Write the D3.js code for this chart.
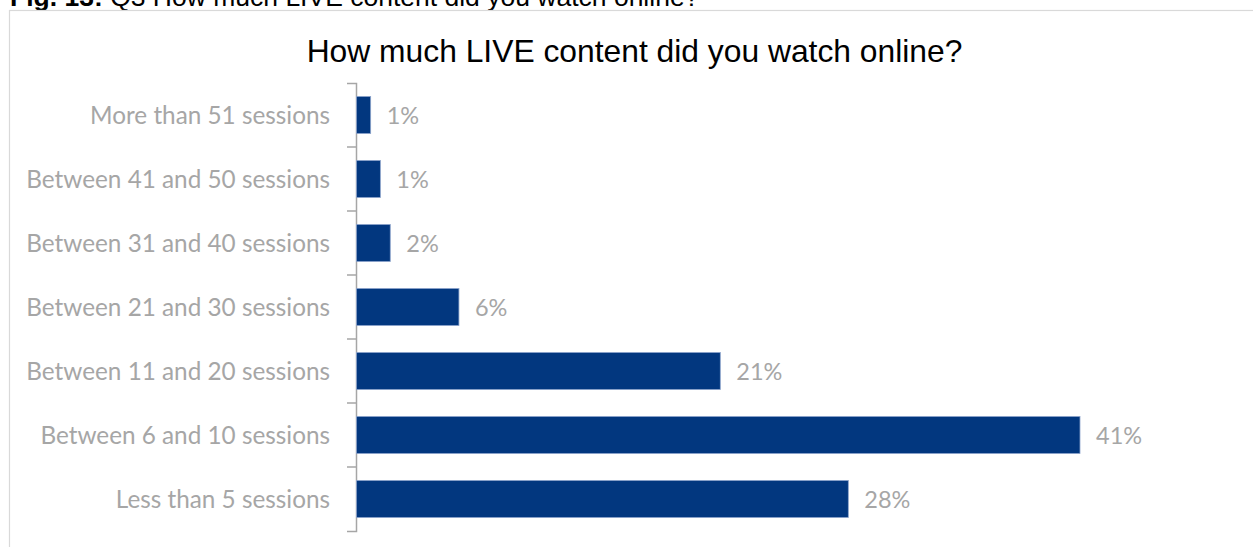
<!DOCTYPE html>
<html>
<head>
<meta charset="utf-8">
<script src="https://cdn.jsdelivr.net/npm/d3@7"></script>
<style>
  html, body { margin: 0; padding: 0; background: #fff; }
  svg { display: block; }
</style>
</head>
<body>
<svg id="chart" width="1253" height="547"></svg>
<script>
// Survey answers, listed top to bottom as shown on the chart
const categories = [
  "More than 51 sessions",
  "Between 41 and 50 sessions",
  "Between 31 and 40 sessions",
  "Between 21 and 30 sessions",
  "Between 11 and 20 sessions",
  "Between 6 and 10 sessions",
  "Less than 5 sessions"
];
// Share of respondents for each answer
const shares = [0.0083, 0.0138, 0.0194, 0.0583, 0.2063, 0.41, 0.2788];

const captionBold = "Fig. 13:";
const captionText = " Q3 How much LIVE content did you watch online?";
const chartTitle = "How much LIVE content did you watch online?";

const data = categories.map((c, i) => ({ category: c, value: shares[i] }));

const svg = d3.select("#chart");
const W = 1253, H = 547;

const labelFont = "Lato, 'Open Sans', sans-serif";
const gray = "#a6a6a6";

// Figure caption above the chart frame
svg.append("text")
  .attr("x", 10)
  .attr("y", 6)
  .attr("font-family", "'Liberation Sans', Arial, sans-serif")
  .attr("font-size", 26.5)
  .attr("fill", "#000")
  .call(t => {
    t.append("tspan").attr("font-weight", "bold").text(captionBold);
    t.append("tspan").text(captionText);
  });

// Chart frame
svg.append("rect")
  .attr("x", 9.5)
  .attr("y", 10.5)
  .attr("width", W + 10)
  .attr("height", H + 10)
  .attr("fill", "none")
  .attr("stroke", "#d9d9d9")
  .attr("stroke-width", 1.2);

// Chart title
svg.append("text")
  .attr("x", 634.5)
  .attr("y", 62)
  .attr("text-anchor", "middle")
  .attr("font-family", "'Liberation Sans', Arial, sans-serif")
  .attr("font-size", 31.8)
  .attr("fill", "#000")
  .text(chartTitle);

// Scales
const x0 = 356;
const x = d3.scaleLinear()
  .domain([0, 0.45])
  .range([x0, x0 + 724 / 0.41 * 0.45]);

const y = d3.scaleBand()
  .domain(categories)
  .range([83, 531])
  .paddingInner(0.42)
  .paddingOuter(0.21);

// Category axis with outer ticks
const yAxis = d3.axisLeft(y)
  .tickSizeInner(0)
  .tickSizeOuter(9)
  .tickPadding(26);

const gAxis = svg.append("g")
  .attr("transform", `translate(${x0},0)`)
  .call(yAxis);

gAxis.select(".domain")
  .attr("stroke", gray)
  .attr("stroke-width", 1.5);

gAxis.selectAll(".tick text")
  .attr("font-family", labelFont)
  .attr("font-size", 24.3)
  .attr("fill", gray)
  .attr("dy", "0.36em");

// Tick marks between categories
const gap = (y.step() - y.bandwidth()) / 2;
svg.append("g")
  .selectAll("line")
  .data(categories.slice(1))
  .join("line")
  .attr("x1", x0 - 9)
  .attr("x2", x0)
  .attr("y1", d => y(d) - gap)
  .attr("y2", d => y(d) - gap)
  .attr("stroke", gray)
  .attr("stroke-width", 1.5);

// Bars
svg.append("g")
  .selectAll("rect")
  .data(data)
  .join("rect")
  .attr("x", x(0) + 0.5)
  .attr("y", d => y(d.category))
  .attr("width", d => x(d.value) - x(0) - 0.5)
  .attr("height", y.bandwidth())
  .attr("fill", "#02377f")
  .attr("stroke", "#8ea5cc")
  .attr("stroke-width", 0.8);

// Value labels
const pct = d3.format(".0%");
svg.append("g")
  .selectAll("text")
  .data(data)
  .join("text")
  .attr("x", d => x(d.value) + 16)
  .attr("y", d => y(d.category) + y.bandwidth() / 2)
  .attr("dy", "0.37em")
  .attr("font-family", labelFont)
  .attr("font-size", 23.5)
  .attr("fill", gray)
  .text(d => pct(d.value));
</script>
</body>
</html>
